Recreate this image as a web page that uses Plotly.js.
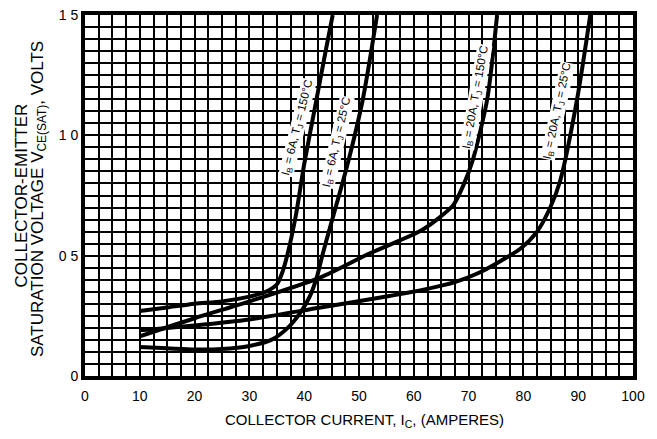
<!DOCTYPE html>
<html>
<head>
<meta charset="utf-8">
<script src="https://cdn.plot.ly/plotly-3.0.1.min.js"></script>
<style>html,body{margin:0;padding:0;background:#fff;}#chart{width:657px;height:439px;}</style>
</head>
<body>
<div id="chart"></div>
<script>
// Collector current (A) and VCE(sat) (V)
const ib6_150_x = [10, 15, 20, 25, 30, 33, 35, 36, 37, 38.5, 40, 42, 44, 45.2];
const ib6_150_y = [0.27, 0.285, 0.30, 0.31, 0.33, 0.35, 0.38, 0.43, 0.51, 0.67, 0.88, 1.12, 1.36, 1.5];

const ib6_25_x = [10, 15, 20, 25, 30, 34, 37, 39.2, 41, 42.3, 43.3, 44.5, 47.8, 50.7, 53.3];
const ib6_25_y = [0.12, 0.115, 0.11, 0.112, 0.125, 0.15, 0.20, 0.26, 0.33, 0.41, 0.50, 0.60, 0.87, 1.15, 1.5];

const ib20_150_x = [10, 20, 30, 43, 52, 61, 64.2, 67.2, 69, 70.8, 73.4, 75.2];
const ib20_150_y = [0.165, 0.24, 0.31, 0.41, 0.51, 0.60, 0.65, 0.71, 0.79, 0.90, 1.15, 1.5];

const ib20_25_x = [10, 20, 30, 43, 55, 62, 67.5, 72, 76, 79.5, 82.5, 84.9, 86.7, 89.8, 92.2];
const ib20_25_y = [0.19, 0.21, 0.235, 0.285, 0.33, 0.36, 0.39, 0.43, 0.48, 0.53, 0.60, 0.70, 0.81, 1.15, 1.5];

const xTickVals = [0, 10, 20, 30, 40, 50, 60, 70, 80, 90, 100];
const xTickText = ["0", "10", "20", "30", "40", "50", "60", "70", "80", "90", "100"];
const yTickVals = [0, 0.5, 1.0, 1.5];
const yTickText = ["0", "0 5", "1 0", "1 5"];

const curveLabels = [
  {text: "I<sub>B</sub> = 6A, T<sub>J</sub> = 150°C", x: 38.8, y: 1.03, angle: -76},
  {text: "I<sub>B</sub> = 6A, T<sub>J</sub> = 25°C", x: 45.9, y: 0.97, angle: -77},
  {text: "I<sub>B</sub> = 20A, T<sub>J</sub> = 150°C", x: 71.3, y: 1.16, angle: -80},
  {text: "I<sub>B</sub> = 20A, T<sub>J</sub> = 25°C", x: 86.3, y: 1.10, angle: -78}
];

const lineStyle = {color: "#000", width: 4, shape: "spline", smoothing: 0.7};
function tr(x, y, name) {
  return {x: x, y: y, name: name, type: "scatter", mode: "lines", line: lineStyle, hoverinfo: "skip"};
}
const data = [
  tr(ib6_150_x, ib6_150_y, "IB=6A, TJ=150°C"),
  tr(ib6_25_x, ib6_25_y, "IB=6A, TJ=25°C"),
  tr(ib20_150_x, ib20_150_y, "IB=20A, TJ=150°C"),
  tr(ib20_25_x, ib20_25_y, "IB=20A, TJ=25°C")
];

const font = {family: "Liberation Sans, Arial, sans-serif", color: "#000"};

const annotations = curveLabels.map(l => ({
  text: l.text, x: l.x, y: l.y, xref: "x", yref: "y", showarrow: false,
  textangle: l.angle, font: Object.assign({}, font, {size: 11.5}),
  bgcolor: "#fff", borderpad: 0
}));
annotations.push({
  text: "COLLECTOR-EMITTER",
  xref: "paper", yref: "paper", x: (21 - 85) / 548, y: 0.5, xanchor: "center", yanchor: "middle",
  textangle: -90, showarrow: false, font: Object.assign({}, font, {size: 17})
});
annotations.push({
  text: "SATURATION VOLTAGE V<sub>CE(SAT)</sub>, VOLTS",
  xref: "paper", yref: "paper", x: (39 - 85) / 548, y: 0.49, xanchor: "center", yanchor: "middle",
  textangle: -90, showarrow: false, font: Object.assign({}, font, {size: 17})
});
annotations.push({
  text: "COLLECTOR CURRENT, I<sub>C</sub>, (AMPERES)",
  xref: "paper", yref: "paper", x: 0.51, y: -(420 - 376) / 361, xanchor: "center", yanchor: "middle",
  showarrow: false, font: Object.assign({}, font, {size: 15})
});

const layout = {
  width: 657, height: 439,
  margin: {l: 85, r: 24, t: 15, b: 63},
  paper_bgcolor: "#fff", plot_bgcolor: "#fff",
  showlegend: false,
  font: font,
  xaxis: {
    range: [0, 100], tickvals: xTickVals, ticktext: xTickText,
    showgrid: true, gridcolor: "#000", gridwidth: 2,
    minor: {dtick: 2.5, showgrid: true, gridcolor: "#000", gridwidth: 2},
    zeroline: false, showline: true, mirror: true, linecolor: "#000", linewidth: 4,
    ticks: "", ticklabelstandoff: 4, tickfont: Object.assign({}, font, {size: 14}), fixedrange: true
  },
  yaxis: {
    range: [0, 1.5], tickvals: yTickVals, ticktext: yTickText,
    showgrid: true, gridcolor: "#000", gridwidth: 2,
    minor: {dtick: 0.05, showgrid: true, gridcolor: "#000", gridwidth: 2},
    zeroline: false, showline: true, mirror: true, linecolor: "#000", linewidth: 4,
    ticks: "", tickfont: Object.assign({}, font, {size: 14}), fixedrange: true
  },
  annotations: annotations
};

Plotly.newPlot("chart", data, layout, {displayModeBar: false, staticPlot: true});
</script>
</body>
</html>
